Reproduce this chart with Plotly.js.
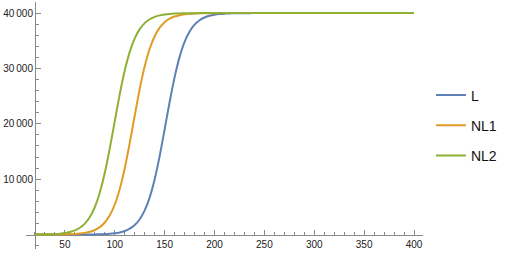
<!DOCTYPE html>
<html>
<head>
<meta charset="utf-8">
<script src="https://cdn.plot.ly/plotly-3.0.1.min.js"></script>
<style>html,body{margin:0;padding:0;background:#fff;}#chart{width:508px;height:254px;}</style>
</head>
<body>
<div id="chart"></div>
<script>
const seriesNames = ["L", "NL1", "NL2"];
const seriesColors = ["#5E81B5", "#E09C24", "#8FB032"];

const xs = [20,25,30,35,40,45,50,55,60,65,70,75,80,85,90,95,100,105,110,115,
            120,125,130,135,140,145,150,155,160,165,170,175,180,185,190,195,200,205,210,215,
            220,225,230,235,240,245,250,300,350,400];

const L = [0.08,0.13,0.22,0.37,0.6,1.0,1.6,2.7,4.5,7.4,12,20,33,54,90,147,242,398,652,1064,
           1724,2766,4364,6719,9990,14174,19002,23952,28439,32087,34796,36673,37914,38708,39207,39515,39704,39820,39891,39934,
           39960,39976,39985,39991,39995,39997,39998,40000,40000,40000];

const NL1 = [2,3.5,5.7,9.5,16,26,42,70,115,189,311,510,833,1356,2187,3481,5435,8235,11976,16536,
             21494,26282,30381,33557,35826,37359,38355,38986,39379,39621,39769,39860,39915,39948,39969,39981,39989,39993,39996,39997,
             39998,39999,40000,40000,40000,40000,40000,40000,40000,40000];

const NL2 = [14,23,38,63,104,171,281,462,756,1231,1990,3177,4981,7600,11154,15576,20500,25364,29630,33000,
             35440,37100,38190,38884,39315,39582,39745,39845,39906,39943,39965,39979,39987,39992,39995,39997,39998,39999,39999,40000,
             40000,40000,40000,40000,40000,40000,40000,40000,40000,40000];

const xTickVals = [50,100,150,200,250,300,350,400];
const xTickText = ["50","100","150","200","250","300","350","400"];
const yTickVals = [10000,20000,30000,40000];
const yTickText = ["10\u2009000","20\u2009000","30\u2009000","40\u2009000"];

const seriesData = [L, NL1, NL2];
const traces = seriesData.map((ys, i) => ({
  x: xs, y: ys, type: "scatter", mode: "lines",
  name: seriesNames[i], legendgroup: seriesNames[i],
  line: {color: seriesColors[i], width: 2, shape: "spline", smoothing: 0.6}
}));

const xRange = [11, 409];
const yRange = [-2600, 42000];
const axisColor = "#8a8a8a";

const layout = {
  width: 508, height: 254,
  margin: {l: 26, r: 85, t: 2, b: 5, pad: 0},
  paper_bgcolor: "#fff", plot_bgcolor: "#fff",
  font: {family: "Liberation Sans, Arial, sans-serif", size: 10, color: "#222"},
  showlegend: true,
  legend: {x: 1.02, xanchor: "left", y: 0.5, yanchor: "middle",
           font: {size: 14, color: "#111"}, tracegroupgap: 9, bgcolor: "rgba(0,0,0,0)"},
  xaxis: {
    range: xRange, anchor: "free", position: (0 - yRange[0]) / (yRange[1] - yRange[0]),
    showline: true, linecolor: axisColor, linewidth: 1, layer: "below traces",
    showgrid: false, zeroline: false,
    ticks: "inside", ticklen: 5, tickwidth: 1, tickcolor: axisColor,
    tickvals: xTickVals, ticktext: xTickText,
    minor: {dtick: 10, tick0: 0, ticks: "inside", ticklen: 3, tickcolor: axisColor, showgrid: false}
  },
  yaxis: {
    range: yRange, anchor: "free", position: (20 - xRange[0]) / (xRange[1] - xRange[0]),
    showline: true, linecolor: axisColor, linewidth: 1, layer: "below traces",
    showgrid: false, zeroline: false,
    ticks: "inside", ticklen: 5, tickwidth: 1, tickcolor: axisColor,
    tickvals: yTickVals, ticktext: yTickText,
    minor: {dtick: 2000, tick0: 0, ticks: "inside", ticklen: 3, tickcolor: axisColor, showgrid: false}
  }
};

Plotly.newPlot("chart", traces, layout, {displayModeBar: false, staticPlot: true});
</script>
</body>
</html>
